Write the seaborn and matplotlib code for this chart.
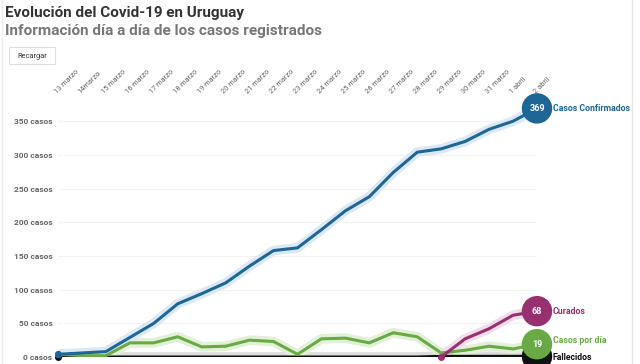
import matplotlib
matplotlib.use("Agg")
import matplotlib.pyplot as plt
from matplotlib.lines import Line2D
from matplotlib.patches import Rectangle
import seaborn as sns
import pandas as pd

fechas = ["13 marzo", "14marzo", "15 marzo", "16 marzo", "17 marzo", "18 marzo",
          "19 marzo", "20 marzo", "21 marzo", "22 marzo", "23 marzo", "24 marzo",
          "25 marzo", "26 marzo", "27 marzo", "28 marzo", "29 marzo", "30 marzo",
          "31 marzo", "1 abril", "2 abril"]
confirmados = [4, 6, 8, 29, 50, 79, 94, 110, 135, 158, 162, 189, 217, 238,
               274, 304, 309, 320, 338, 350, 369]
por_dia = [4, 2, 2, 21, 21, 30, 15, 16, 25, 23, 4, 27, 28, 21, 36, 30, 6, 10,
           16, 12, 19]
curados = [None] * 16 + [0, 27, 42, 62, 68]
fallecidos = [0] * 16 + [1, 1, 1, 1, 1]
y_ticks = [0, 50, 100, 150, 200, 250, 300, 350]

series = [
    ("Casos Confirmados", confirmados, "#1d6696", "#dce8f3"),
    ("Curados", curados, "#97306f", "#f3dcea"),
    ("Casos por día", por_dia, "#6aaa45", "#e2f0d8"),
    ("Fallecidos", fallecidos, "#111111", "#dddddd"),
]

sns.set_style("white")
plt.rcParams["font.family"] = ["Roboto", "DejaVu Sans"]

W, H = 640, 364
fig = plt.figure(figsize=(6.4, 3.64), dpi=100)
x0, x1, ybot, ytop = 58, 537, 357, 101
ax = fig.add_axes([x0 / W, (H - ybot) / H, (x1 - x0) / W, (ybot - ytop) / H])

rows = []
for name, vals, col, halo in series:
    for i, v in enumerate(vals):
        if v is not None:
            rows.append({"serie": name, "x": i, "y": v})
df = pd.DataFrame(rows)

for name, vals, col, halo in series[::-1]:
    d = df[df.serie == name]
    sns.lineplot(data=d, x="x", y="y", ax=ax, color=halo, lw=7, legend=False,
                 solid_capstyle="round", zorder=2)
for name, vals, col, halo in series[::-1]:
    d = df[df.serie == name]
    sns.lineplot(data=d, x="x", y="y", ax=ax, color=col, lw=2.2, legend=False,
                 zorder=3)
    ax.plot(d.x.iloc[0], d.y.iloc[0], "o", color=col, ms=4, zorder=4,
            clip_on=False)

ax.set_xlim(0, len(fechas) - 1)
ax.set_ylim(0, 380)
ax.set_yticks(y_ticks)
ax.set_yticklabels([f"{v} casos" for v in y_ticks], fontsize=6,
                   color="#666666", fontweight="bold")
ax.set_xticks(range(len(fechas)))
ax.xaxis.tick_top()
ax.set_xticklabels(fechas, rotation=45, ha="left", va="bottom",
                   rotation_mode="anchor", fontsize=5.3, color="#666666")
ax.tick_params(length=0, pad=4)
ax.grid(axis="y", color="#f2f2f2", lw=0.8)
ax.set_xlabel("")
ax.set_ylabel("")
for s in ax.spines.values():
    s.set_visible(False)

# end circles with values and labels
for name, vals, col, halo in series[::-1]:
    last = vals[-1]
    ax.scatter([len(vals) - 1], [last], s=480, color=col, zorder=6,
               clip_on=False, edgecolor="none")
    if name != "Fallecidos":
        ax.text(len(vals) - 1, last, str(last), color="white", fontsize=6.5,
                fontweight="bold", ha="center", va="center", zorder=7)
for name, vals, col, halo in series:
    last = vals[-1]
    ly = last + {"Casos por día": 6, "Fallecidos": -1}.get(name, 0)
    ax.annotate(name, (len(vals) - 1, ly), xytext=(11.5, 0),
                textcoords="offset points", color=col, fontsize=6.3,
                fontweight="bold", va="center", ha="left", zorder=7,
                annotation_clip=False)

fig.text(5 / W, 1 - 13 / H, "Evolución del Covid-19 en Uruguay", fontsize=11,
         fontweight="bold", color="#333333", va="center")
fig.text(5 / W, 1 - 31 / H, "Información día a día de los casos registrados",
         fontsize=11, fontweight="bold", color="#777777", va="center")
fig.add_artist(Rectangle((9 / W, 1 - 64 / H), 46 / W, 17 / H,
                         transform=fig.transFigure, fill=False,
                         edgecolor="#e0e0e0", lw=0.8))
fig.text(32 / W, 1 - 56 / H, "Recargar", fontsize=5.3, color="#333333",
         ha="center", va="center")
fig.add_artist(Line2D([632 / W, 632 / W], [0, 1], color="#e6e6e6", lw=1))
fig.add_artist(Line2D([2 / W, 2 / W], [0, 1], color="#ececec", lw=1))

fig.savefig("out.png", dpi=100)
